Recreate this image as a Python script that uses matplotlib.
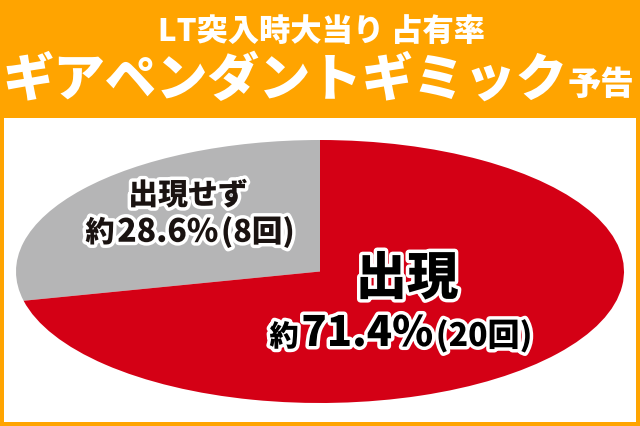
import matplotlib
matplotlib.use("Agg")
import matplotlib.pyplot as plt
import matplotlib.patheffects as pe
from matplotlib.patches import Rectangle
from matplotlib.offsetbox import TextArea, HPacker, AnnotationBbox

plt.rcParams['font.family'] = ['Noto Sans CJK JP', 'DejaVu Sans']

# data
labels = ['出現せず', '出現']
counts = [8, 20]
colors = ['#b5b5b6', '#d40015']
title1 = 'LT突入時大当り 占有率'
title2 = 'ギアペンダントギミック'
title2_suffix = '予告'

total = sum(counts)
pcts = [c / total * 100 for c in counts]

ORANGE = '#ffa400'
INK = '#1a1311'

fig = plt.figure(figsize=(6.4, 4.27), dpi=100, facecolor=ORANGE)

# background / white panel
bg = fig.add_axes([0, 0, 1, 1])
bg.set_xlim(0, 640)
bg.set_ylim(427, 0)
bg.axis('off')
bg.add_patch(Rectangle((4, 119), 632, 304, facecolor='white', edgecolor='none'))

# the pie, squashed into an ellipse
pax = fig.add_axes([16 / 640, (427 - 404) / 427, 608 / 640, 263 / 427])
pax.pie(counts, colors=colors, startangle=90, counterclock=True,
        wedgeprops=dict(linewidth=0))
pax.set_aspect('auto')
pax.set_xlim(-1, 1)
pax.set_ylim(-1, 1)
pax.axis('off')

# text layer
tax = fig.add_axes([0, 0, 1, 1])
tax.set_xlim(0, 640)
tax.set_ylim(427, 0)
tax.axis('off')
tax.patch.set_alpha(0)

stroke = [pe.withStroke(linewidth=5, foreground='white')]


def row(parts, x, y, sep=0):
    areas = []
    for s, size, color, fx in parts:
        areas.append(TextArea(s, textprops=dict(fontsize=size, color=color,
                                                fontweight='black',
                                                path_effects=fx)))
    box = HPacker(children=areas, align='baseline', pad=0, sep=sep)
    ab = AnnotationBbox(box, (x, y), xycoords='data', frameon=False,
                        box_alignment=(0.5, 0.5), pad=0)
    tax.add_artist(ab)


# header
tax.text(321, 31, title1, ha='center', va='center', fontsize=22.5,
         fontweight='black', color='white')
row([(title2, 37, 'white', None), (title2_suffix, 24, 'white', None)], 318, 80)

# slice labels
tax.text(188, 196, labels[0], ha='center', va='center', fontsize=21.5,
         fontweight='black', color=INK, path_effects=stroke)
row([('約', 21, INK, stroke), ('%.1f%%' % pcts[0], 23, INK, stroke),
     ('(%d回)' % counts[0], 22, INK, stroke)], 190, 233, sep=2)

tax.text(407, 280, labels[1], ha='center', va='center', fontsize=37,
         fontweight='black', color='black', path_effects=stroke)
row([('約', 21, 'black', stroke), ('%.1f%%' % pcts[1], 30, 'black', stroke),
     ('(%d回)' % counts[1], 23, 'black', stroke)], 401, 335, sep=2)

fig.savefig('out.png', dpi=100, facecolor=ORANGE)
